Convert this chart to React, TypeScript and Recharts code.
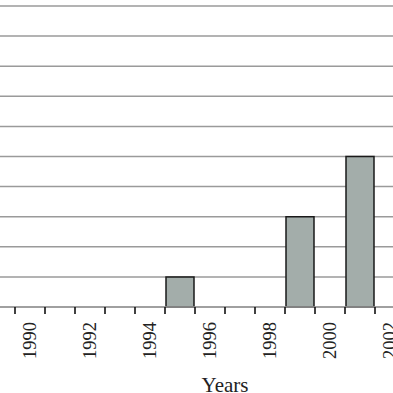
import React from "react";
import { BarChart, Bar, XAxis, YAxis, CartesianGrid } from "recharts";

const YEARS = [1989, 1990, 1991, 1992, 1993, 1994, 1995, 1996, 1997, 1998, 1999, 2000, 2001, 2002, 2003, 2004];
const COUNTS = [0, 0, 0, 0, 0, 0, 1, 0, 0, 0, 3, 0, 5, 0, 0, 0];
const Y_TICKS = [0, 1, 2, 3, 4, 5, 6, 7, 8, 9, 10];

const data = YEARS.map((year, i) => ({ year, count: COUNTS[i] }));

// tick mark sits on the category edge, label only on even years
function YearTick(props: any) {
  const { x, y, payload } = props;
  const half = payload.offset || 0;
  const year = Number(payload.value);
  return (
    <g>
      <line x1={x - half} y1={y - 8} x2={x - half} y2={y - 1} stroke="#111" strokeWidth={1.6} />
      {year % 2 === 0 && (
        <text
          x={0}
          y={0}
          transform={`translate(${x + 6},${y + 7}) rotate(-90)`}
          textAnchor="end"
          fontFamily="'Liberation Serif', serif"
          fontSize={18.5}
          fill="#222"
        >
          {year}
        </text>
      )}
    </g>
  );
}

export default function App() {
  return (
    <div style={{ position: "absolute", left: 0, top: 0, width: 393, height: 393, overflow: "hidden", background: "#fff" }}>
      <div style={{ position: "absolute", left: -15, top: 0 }}>
        <BarChart
          width={480}
          height={393}
          data={data}
          margin={{ top: 6, right: 0, bottom: 0, left: 0 }}
          barCategoryGap={1}
        >
          <CartesianGrid vertical={false} stroke="#9a9a9a" strokeWidth={1.5} />
          <XAxis
            dataKey="year"
            interval={0}
            tickLine={false}
            axisLine={{ stroke: "#9a9a9a", strokeWidth: 1.5 }}
            tick={<YearTick />}
            height={86}
            label={{
              value: "Years",
              position: "insideBottom",
              offset: 1,
              fontFamily: "'Liberation Serif', serif",
              fontSize: 21,
              fill: "#222",
            }}
          />
          <YAxis hide domain={[0, 10]} ticks={Y_TICKS} />
          <Bar dataKey="count" fill="#a3adaa" stroke="#1a1a1a" strokeWidth={1.5} isAnimationActive={false} />
        </BarChart>
      </div>
    </div>
  );
}
